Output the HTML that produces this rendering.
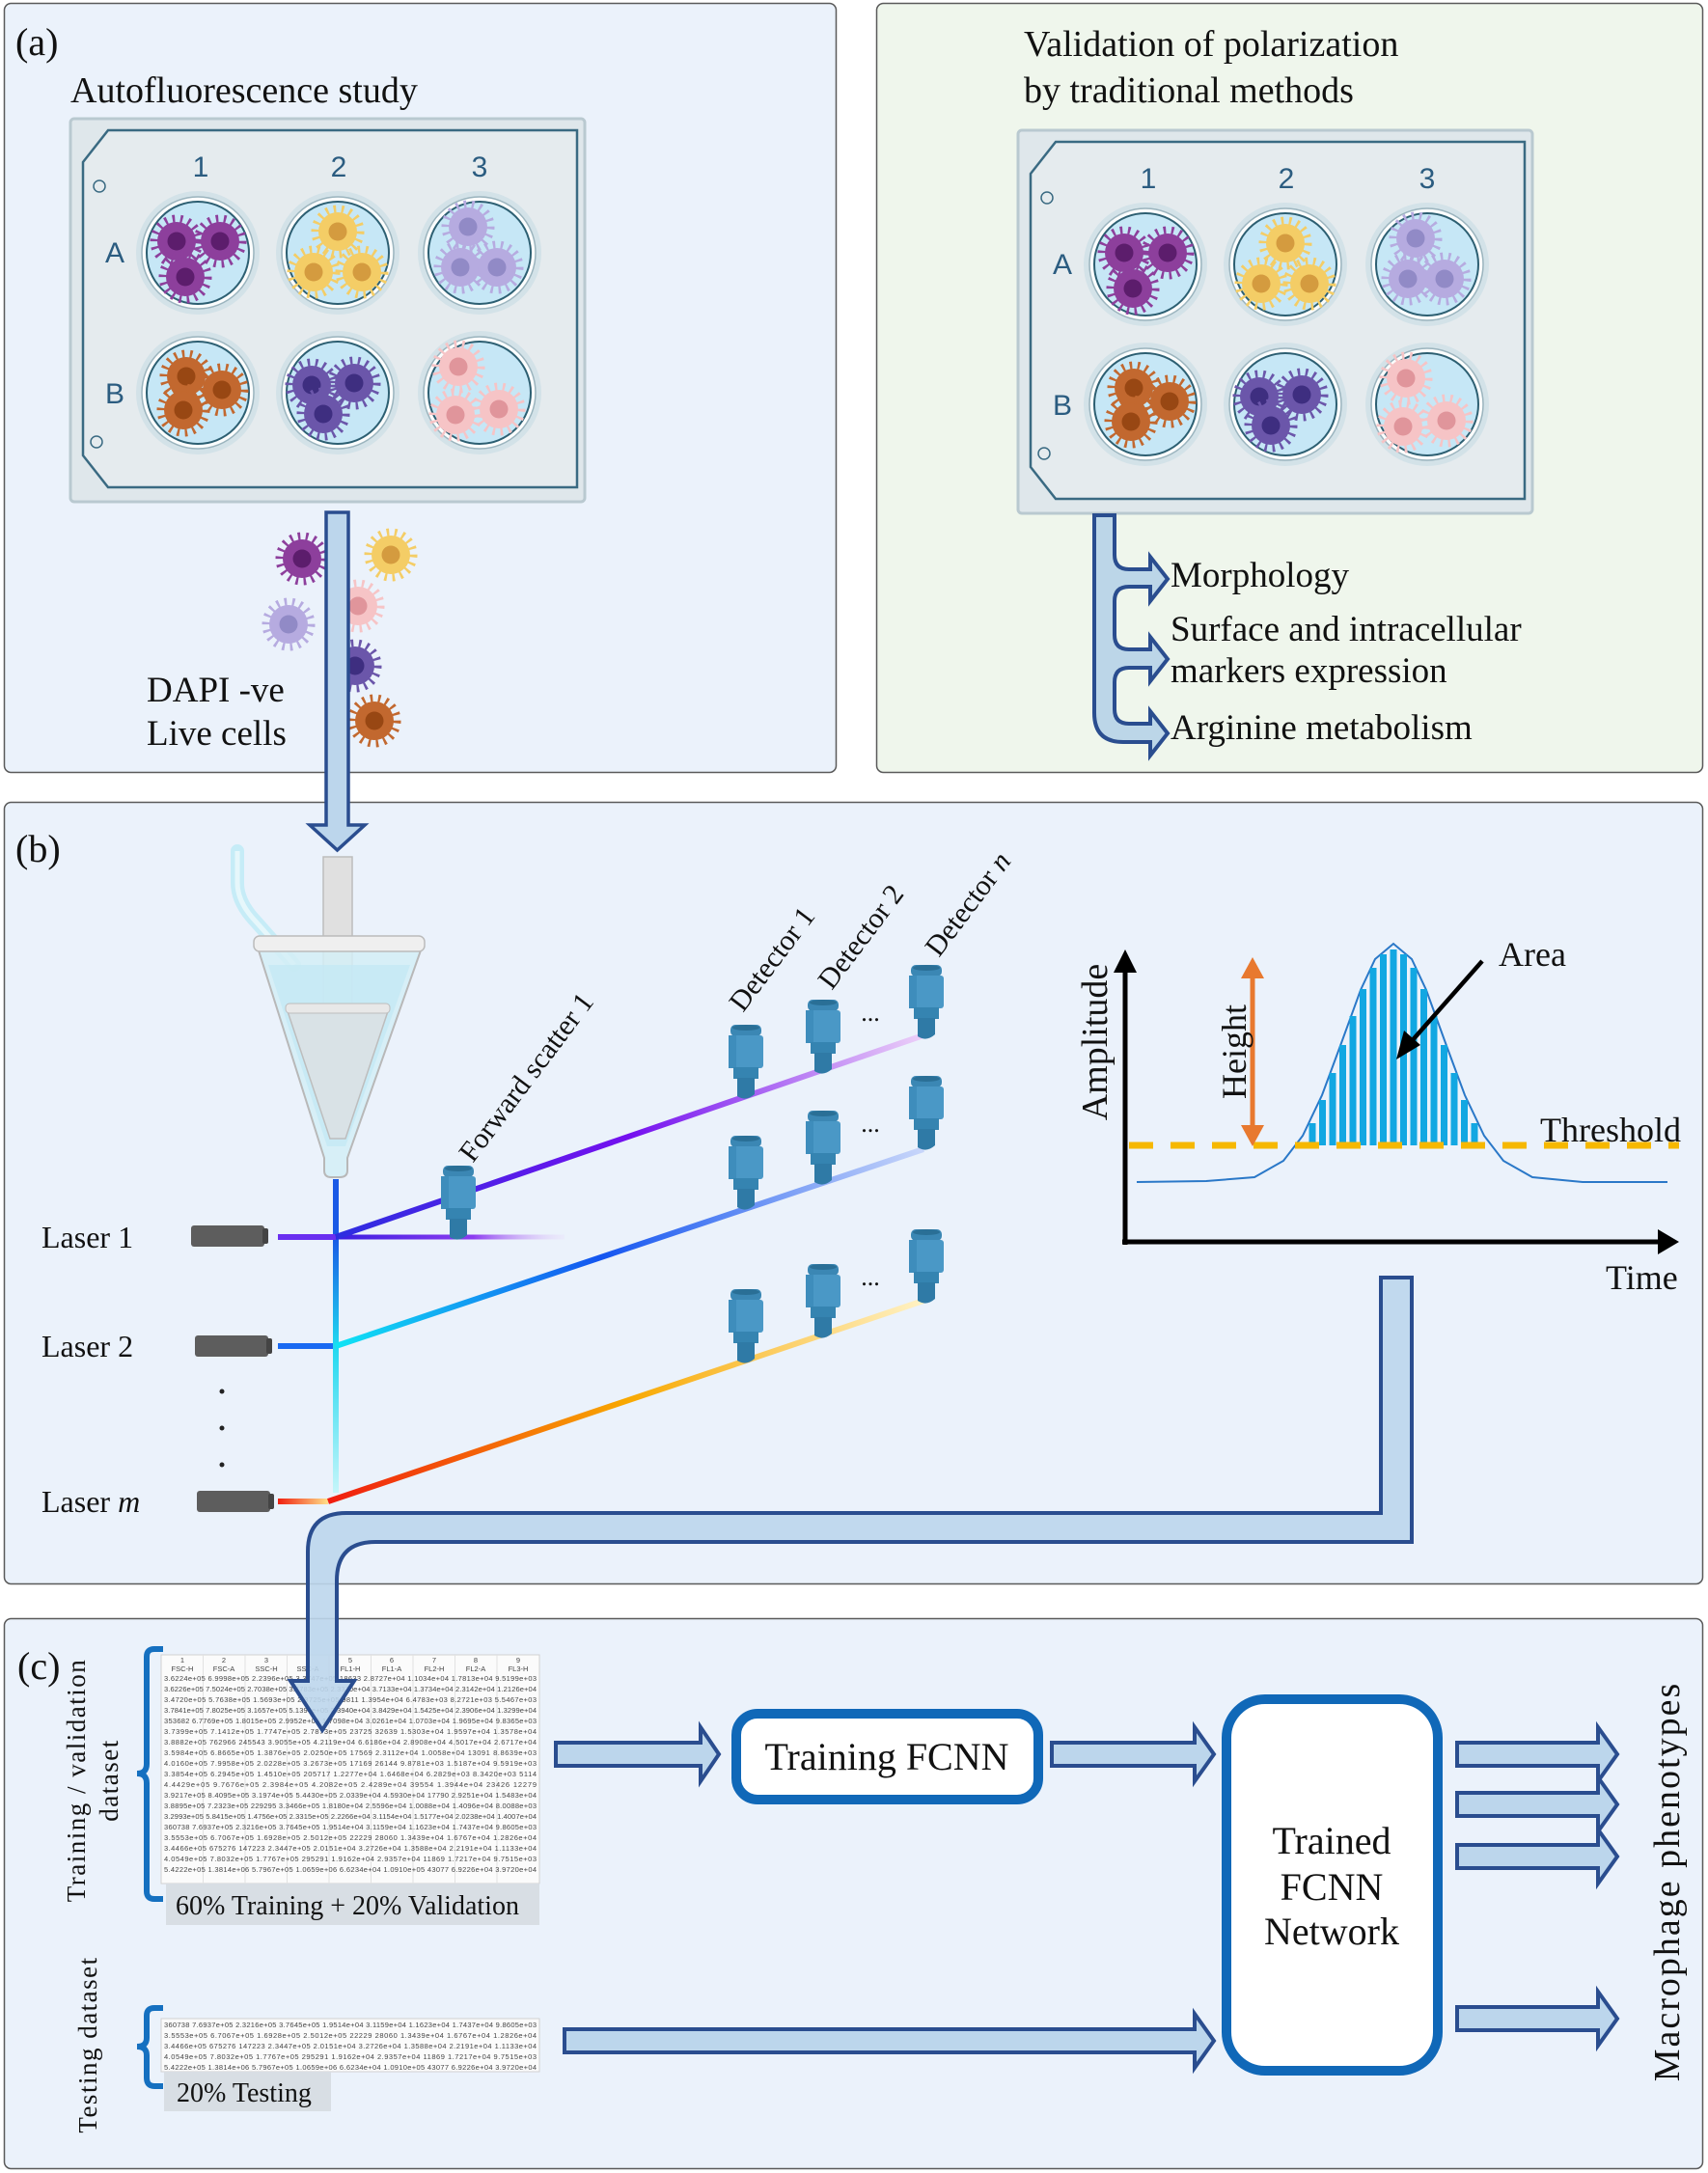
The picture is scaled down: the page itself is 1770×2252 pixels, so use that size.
<!DOCTYPE html>
<html><head><meta charset="utf-8"><style>
html,body{margin:0;padding:0;background:#fff}
svg{display:block}
text{font-family:"Liberation Serif",serif;fill:#111}
.tb{font-family:"Liberation Sans",sans-serif;font-size:7.5px;fill:#444}
</style></head><body>
<svg width="1770" height="2252" viewBox="0 0 1770 2252" xmlns="http://www.w3.org/2000/svg">
<defs>
<symbol id="cP" viewBox="-32 -32 64 64" overflow="visible"><circle r="20" fill="#8d3f9c"/><circle r="23" fill="none" stroke="#8d3f9c" stroke-width="9" stroke-dasharray="2.5 5.5"/><circle r="9.5" fill="#5c1d6c"/></symbol>
<symbol id="cY" viewBox="-32 -32 64 64" overflow="visible"><circle r="20" fill="#f4cd66"/><circle r="23" fill="none" stroke="#f4cd66" stroke-width="9" stroke-dasharray="2.5 5.5"/><circle r="9.5" fill="#d49b3f"/></symbol>
<symbol id="cL" viewBox="-32 -32 64 64" overflow="visible"><circle r="20" fill="#b6abe0"/><circle r="23" fill="none" stroke="#b6abe0" stroke-width="9" stroke-dasharray="2.5 5.5"/><circle r="9.5" fill="#918ac6"/></symbol>
<symbol id="cB" viewBox="-32 -32 64 64" overflow="visible"><circle r="20" fill="#c2682f"/><circle r="23" fill="none" stroke="#c2682f" stroke-width="9" stroke-dasharray="2.5 5.5"/><circle r="9.5" fill="#984713"/></symbol>
<symbol id="cI" viewBox="-32 -32 64 64" overflow="visible"><circle r="20" fill="#6b56aa"/><circle r="23" fill="none" stroke="#6b56aa" stroke-width="9" stroke-dasharray="2.5 5.5"/><circle r="9.5" fill="#3e2e80"/></symbol>
<symbol id="cK" viewBox="-32 -32 64 64" overflow="visible"><circle r="20" fill="#f6c4c6"/><circle r="23" fill="none" stroke="#f6c4c6" stroke-width="9" stroke-dasharray="2.5 5.5"/><circle r="9.5" fill="#e0959b"/></symbol>
<g id="well"><circle r="64" fill="#d3e2e8"/><circle r="58" fill="#fbfdfd" stroke="#9bb4be" stroke-width="1.5"/><circle r="53" fill="#c6e7f6" stroke="#2d5f72" stroke-width="2"/></g>
<g id="plate">
<rect x="73" y="123" width="533" height="397" rx="4" fill="#dfe7eb" stroke="#b9c9d0" stroke-width="3"/>
<path d="M112,135 H598 V505 H112 L86,472 V168 Z" fill="#e5ebee" stroke="#3a6a82" stroke-width="2.5"/>
<circle cx="103" cy="193" r="6" fill="none" stroke="#3a6a82" stroke-width="1.5"/>
<circle cx="100" cy="458" r="6" fill="none" stroke="#3a6a82" stroke-width="1.5"/>
<g font-family="Liberation Sans, sans-serif" font-size="30" fill="#2b5c80" text-anchor="middle">
<text x="208" y="183" style="font-family:'Liberation Sans',sans-serif;fill:#2b5c80">1</text>
<text x="351" y="183" style="font-family:'Liberation Sans',sans-serif;fill:#2b5c80">2</text>
<text x="497" y="183" style="font-family:'Liberation Sans',sans-serif;fill:#2b5c80">3</text>
<text x="119" y="272" style="font-family:'Liberation Sans',sans-serif;fill:#2b5c80">A</text>
<text x="119" y="418" style="font-family:'Liberation Sans',sans-serif;fill:#2b5c80">B</text>
</g>
<use href="#well" x="205" y="262"/><use href="#well" x="350" y="262"/><use href="#well" x="497" y="262"/>
<use href="#well" x="205" y="407"/><use href="#well" x="350" y="407"/><use href="#well" x="497" y="407"/>
<g transform="translate(205,262)"><use href="#cP" x="-54" y="-44" width="64" height="64"/><use href="#cP" x="-9" y="-44" width="64" height="64"/><use href="#cP" x="-45" y="-7" width="64" height="64"/></g>
<g transform="translate(350,262)"><use href="#cY" x="-32" y="-54" width="64" height="64"/><use href="#cY" x="-57" y="-12" width="64" height="64"/><use href="#cY" x="-7" y="-12" width="64" height="64"/></g>
<g transform="translate(497,262)"><use href="#cL" x="-44" y="-59" width="64" height="64"/><use href="#cL" x="-52" y="-17" width="64" height="64"/><use href="#cL" x="-14" y="-17" width="64" height="64"/></g>
<g transform="translate(205,407)"><use href="#cB" x="-44" y="-49" width="64" height="64"/><use href="#cB" x="-7" y="-35" width="64" height="64"/><use href="#cB" x="-47" y="-14" width="64" height="64"/></g>
<g transform="translate(350,407)"><use href="#cI" x="-59" y="-40" width="64" height="64"/><use href="#cI" x="-15" y="-42" width="64" height="64"/><use href="#cI" x="-47" y="-10" width="64" height="64"/></g>
<g transform="translate(497,407)"><use href="#cK" x="-54" y="-59" width="64" height="64"/><use href="#cK" x="-57" y="-9" width="64" height="64"/><use href="#cK" x="-12" y="-15" width="64" height="64"/></g>
</g>
<symbol id="det" viewBox="-20 0 40 78" overflow="visible">
<rect x="-16" y="0" width="32" height="12" rx="5" fill="#3b87b4"/>
<ellipse cx="0" cy="3" rx="14" ry="3" fill="#2a6f96"/>
<rect x="-18" y="11" width="36" height="34" rx="3" fill="#4a98c6"/>
<rect x="-18" y="11" width="8" height="34" fill="#3e8dbc"/>
<rect x="-13" y="44" width="26" height="12" fill="#3584b1"/>
<path d="M-9,55 H9 V72 Q0,80 -9,74 Z" fill="#2f7aa6"/>
</symbol>
<linearGradient id="g1" gradientUnits="userSpaceOnUse" x1="348" y1="1282" x2="957" y2="1073"><stop offset="0" stop-color="#2d2ee0"/><stop offset="0.5" stop-color="#7410ef"/><stop offset="1" stop-color="#ecd0f8"/></linearGradient>
<linearGradient id="g2" gradientUnits="userSpaceOnUse" x1="348" y1="1395" x2="957" y2="1191"><stop offset="0" stop-color="#10e4f4"/><stop offset="0.45" stop-color="#1455f0"/><stop offset="1" stop-color="#c8d6fa"/></linearGradient>
<linearGradient id="g3" gradientUnits="userSpaceOnUse" x1="340" y1="1556" x2="957" y2="1348"><stop offset="0" stop-color="#f01c10"/><stop offset="0.5" stop-color="#f8a800"/><stop offset="1" stop-color="#fff2c4"/></linearGradient>
<linearGradient id="gf" gradientUnits="userSpaceOnUse" x1="348" y1="0" x2="585" y2="0"><stop offset="0" stop-color="#3a1ee0"/><stop offset="0.6" stop-color="#8c3cf0"/><stop offset="1" stop-color="#e8d4fa" stop-opacity="0.2"/></linearGradient>
<linearGradient id="gm" gradientUnits="userSpaceOnUse" x1="288" y1="0" x2="340" y2="0"><stop offset="0" stop-color="#f02010"/><stop offset="1" stop-color="#ffe08a"/></linearGradient>
<linearGradient id="gs" gradientUnits="userSpaceOnUse" x1="0" y1="1282" x2="0" y2="1550"><stop offset="0" stop-color="#1a5ae6"/><stop offset="0.42" stop-color="#20d8f0"/><stop offset="1" stop-color="#c8f6fa"/></linearGradient>
</defs>

<!-- Panels -->
<rect x="4.5" y="3.5" width="862" height="797" rx="7" fill="#ebf2fb" stroke="#5a5a5a" stroke-width="1.5"/>
<rect x="908.5" y="3.5" width="856" height="797" rx="7" fill="#eff6ec" stroke="#5a5a5a" stroke-width="1.5"/>
<rect x="4.5" y="831.5" width="1760" height="810" rx="7" fill="#ebf2fb" stroke="#5a5a5a" stroke-width="1.5"/>
<rect x="4.5" y="1677.5" width="1760" height="570" rx="7" fill="#ebf2fb" stroke="#5a5a5a" stroke-width="1.5"/>

<text x="16" y="57" font-size="40">(a)</text>
<text x="73" y="106" font-size="38">Autofluorescence study</text>
<use href="#plate"/>
<g transform="translate(982,12)"><use href="#plate"/></g>
<text x="1061" y="58" font-size="38">Validation of polarization</text>
<text x="1061" y="106" font-size="38">by traditional methods</text>

<!-- bracket -->
<path d="M1134,534 H1155 V575 Q1155,590 1170,590 H1192 V577 L1210,600 L1192,623 V608 H1170 Q1155,608 1155,623 V658 Q1155,673 1170,673 H1192 V660 L1210,683 L1192,706 V692 H1170 Q1155,692 1155,707 V735 Q1155,750 1170,750 H1192 V737 L1210,760 L1192,783 V769 H1164 Q1134,769 1134,739 Z" fill="#bcd6e8" stroke="#2a4d8f" stroke-width="4"/>
<text x="1213" y="608" font-size="37">Morphology</text>
<text x="1213" y="664" font-size="37">Surface and intracellular</text>
<text x="1213" y="707" font-size="37">markers expression</text>
<text x="1213" y="766" font-size="37">Arginine metabolism</text>

<!-- loose cells -->
<use href="#cP" x="281" y="547" width="64" height="64"/>
<use href="#cY" x="373" y="543" width="64" height="64"/>
<use href="#cL" x="267" y="615" width="64" height="64"/>
<use href="#cK" x="339" y="596" width="64" height="64"/>
<use href="#cI" x="336" y="658" width="64" height="64"/>
<use href="#cB" x="356" y="715" width="64" height="64"/>
<text x="152" y="727" font-size="37">DAPI -ve</text>
<text x="152" y="772" font-size="37">Live cells</text>

<!-- Panel b -->
<text x="16" y="893" font-size="40">(b)</text>
<!-- flow cell -->
<path d="M246,882 V915 Q246,935 265,955 L305,1000" fill="none" stroke="#c6ecf7" stroke-width="14" stroke-linecap="round"/>
<path d="M246,882 V915 Q246,935 265,955 L305,1000" fill="none" stroke="#e6f7fb" stroke-width="5"/>
<rect x="335" y="888" width="30" height="160" fill="#e0e0e0" stroke="#bdbdbd" stroke-width="1.5"/>
<path d="M268,985 H436 L360,1200 V1213 Q360,1220 352,1220 H343 Q336,1220 336,1213 V1200 Z" fill="#d4eef6" fill-opacity="0.85" stroke="#b8b8b8" stroke-width="2"/>
<path d="M278,1000 H425 L358,1188 H339 Z" fill="#c4e8f4" fill-opacity="0.8"/>
<path d="M297,1045 H403 L358,1180 H342 Z" fill="#d9e2e6" stroke="#bdbdbd" stroke-width="1.5"/>
<rect x="296" y="1040" width="108" height="10" rx="4" fill="#e8e8e8" stroke="#bdbdbd"/>
<rect x="263" y="970" width="177" height="16" rx="6" fill="#efefef" stroke="#bbb" stroke-width="1.5"/>
<rect x="345" y="1222" width="6" height="325" fill="url(#gs)"/>
<!-- lasers -->
<rect x="198" y="1270" width="76" height="22" rx="3" fill="#5d5d5d"/><rect x="272" y="1273" width="6" height="16" rx="2" fill="#444"/>
<rect x="202" y="1384" width="76" height="22" rx="3" fill="#5d5d5d"/><rect x="276" y="1387" width="6" height="16" rx="2" fill="#444"/>
<rect x="204" y="1545" width="76" height="22" rx="3" fill="#5d5d5d"/><rect x="278" y="1548" width="6" height="16" rx="2" fill="#444"/>
<text x="43" y="1293" font-size="32">Laser 1</text>
<text x="43" y="1406" font-size="32">Laser 2</text>
<text x="43" y="1567" font-size="32">Laser <tspan font-style="italic">m</tspan></text>
<circle cx="230" cy="1442" r="2.5" fill="#222"/><circle cx="230" cy="1480" r="2.5" fill="#222"/><circle cx="230" cy="1518" r="2.5" fill="#222"/>
<line x1="288" y1="1282" x2="348" y2="1282" stroke="#6a2ff0" stroke-width="6"/>
<line x1="288" y1="1395" x2="345" y2="1395" stroke="#1a6af2" stroke-width="6"/>
<line x1="288" y1="1556" x2="340" y2="1556" stroke="url(#gm)" stroke-width="6"/>
<line x1="348" y1="1282" x2="585" y2="1282" stroke="url(#gf)" stroke-width="5"/>
<line x1="348" y1="1282" x2="957" y2="1073" stroke="url(#g1)" stroke-width="6"/>
<line x1="348" y1="1395" x2="957" y2="1191" stroke="url(#g2)" stroke-width="6"/>
<line x1="340" y1="1556" x2="957" y2="1348" stroke="url(#g3)" stroke-width="6"/>
<!-- detectors -->
<use href="#det" x="455" y="1208" width="40" height="78"/>
<use href="#det" x="753" y="1062" width="40" height="78"/>
<use href="#det" x="833" y="1036" width="40" height="78"/>
<use href="#det" x="940" y="1000" width="40" height="78"/>
<use href="#det" x="753" y="1177" width="40" height="78"/>
<use href="#det" x="833" y="1151" width="40" height="78"/>
<use href="#det" x="940" y="1115" width="40" height="78"/>
<use href="#det" x="753" y="1336" width="40" height="78"/>
<use href="#det" x="833" y="1310" width="40" height="78"/>
<use href="#det" x="940" y="1274" width="40" height="78"/>
<text x="902" y="1058" font-size="26" text-anchor="middle">...</text>
<text x="902" y="1173" font-size="26" text-anchor="middle">...</text>
<text x="902" y="1332" font-size="26" text-anchor="middle">...</text>
<text transform="translate(490,1206) rotate(-53)" font-size="30">Forward scatter 1</text>
<text transform="translate(770,1050) rotate(-53)" font-size="30">Detector 1</text>
<text transform="translate(862,1027) rotate(-53)" font-size="30">Detector 2</text>
<text transform="translate(973,993) rotate(-53)" font-size="30">Detector <tspan font-style="italic">n</tspan></text>

<!-- graph -->
<polyline points="1178,1225 1250,1224 1300,1220 1330,1203 1350,1177 1370,1135 1390,1081 1410,1026 1425,994 1444,978 1463,994 1478,1026 1498,1081 1518,1135 1538,1177 1558,1203 1588,1220 1640,1225 1728,1225" fill="none" stroke="#2a78c8" stroke-width="2"/>
<g fill="#12a7e2">
<rect x="1356.5" y="1164" width="7" height="23"/><rect x="1367" y="1140" width="7" height="47"/><rect x="1377.5" y="1112" width="7" height="75"/><rect x="1388" y="1083" width="7" height="104"/><rect x="1398.5" y="1053" width="7" height="134"/><rect x="1409" y="1025" width="7" height="162"/><rect x="1419.5" y="1003" width="7" height="184"/><rect x="1430" y="989" width="7" height="198"/><rect x="1440.5" y="984" width="7" height="203"/><rect x="1451" y="989" width="7" height="198"/><rect x="1461.5" y="1003" width="7" height="184"/><rect x="1472" y="1025" width="7" height="162"/><rect x="1482.5" y="1053" width="7" height="134"/><rect x="1493" y="1083" width="7" height="104"/><rect x="1503.5" y="1112" width="7" height="75"/><rect x="1514" y="1140" width="7" height="47"/><rect x="1524.5" y="1164" width="7" height="23"/>
</g>
<line x1="1170" y1="1187" x2="1740" y2="1187" stroke="#f6b800" stroke-width="7" stroke-dasharray="25 18"/>
<line x1="1166" y1="1003" x2="1166" y2="1290" stroke="#000" stroke-width="5"/>
<path d="M1154,1008 L1166,984 L1178,1008 Z" fill="#000"/>
<line x1="1163" y1="1287" x2="1722" y2="1287" stroke="#000" stroke-width="5"/>
<path d="M1718,1274 L1740,1287 L1718,1300 Z" fill="#000"/>
<line x1="1298" y1="1010" x2="1298" y2="1170" stroke="#e8792f" stroke-width="5"/>
<path d="M1286,1014 L1298,992 L1310,1014 Z M1286,1166 L1298,1188 L1310,1166 Z" fill="#e8792f"/>
<line x1="1536" y1="996" x2="1462" y2="1080" stroke="#000" stroke-width="4.5"/>
<path d="M1447,1098 L1455,1068 L1472,1083 Z" fill="#000"/>
<text x="1553" y="1001" font-size="36">Area</text>
<text x="1596" y="1183" font-size="36">Threshold</text>
<text x="1664" y="1336" font-size="36">Time</text>
<text transform="translate(1147,1080) rotate(-90)" font-size="38" text-anchor="middle">Amplitude</text>
<text transform="translate(1291,1090) rotate(-90)" font-size="36" text-anchor="middle">Height</text>

<!-- Panel c -->
<text x="18" y="1740" font-size="40">(c)</text>
<!-- tables -->
<rect x="167" y="1715" width="392" height="237" fill="#fbfbfb" stroke="#d0d0d0"/>
<g stroke="#e2e2e2" stroke-width="1">
<line x1="210.5" y1="1715" x2="210.5" y2="1952"/><line x1="254" y1="1715" x2="254" y2="1952"/><line x1="297.5" y1="1715" x2="297.5" y2="1952"/><line x1="341" y1="1715" x2="341" y2="1952"/><line x1="384.5" y1="1715" x2="384.5" y2="1952"/><line x1="428" y1="1715" x2="428" y2="1952"/><line x1="471.5" y1="1715" x2="471.5" y2="1952"/><line x1="515" y1="1715" x2="515" y2="1952"/>
</g>
<g class="tb" text-anchor="middle">
<text class="tb" x="189" y="1723">1</text><text class="tb" x="232" y="1723">2</text><text class="tb" x="276" y="1723">3</text><text class="tb" x="319" y="1723">4</text><text class="tb" x="363" y="1723">5</text><text class="tb" x="406" y="1723">6</text><text class="tb" x="450" y="1723">7</text><text class="tb" x="493" y="1723">8</text><text class="tb" x="537" y="1723">9</text>
<text class="tb" x="189" y="1732">FSC-H</text><text class="tb" x="232" y="1732">FSC-A</text><text class="tb" x="276" y="1732">SSC-H</text><text class="tb" x="319" y="1732">SSC-A</text><text class="tb" x="363" y="1732">FL1-H</text><text class="tb" x="406" y="1732">FL1-A</text><text class="tb" x="450" y="1732">FL2-H</text><text class="tb" x="493" y="1732">FL2-A</text><text class="tb" x="537" y="1732">FL3-H</text>
</g>
<g class="tb">
<text class="tb" x="170" y="1742" textLength="386">3.6224e+05 6.9998e+05 2.2396e+05 3.3747e+05 18633 2.8727e+04 1.1034e+04 1.7813e+04 9.5199e+03</text>
<text class="tb" x="170" y="1753" textLength="386">3.6226e+05 7.5024e+05 2.7038e+05 3.4783e+05 2.3370e+04 3.7133e+04 1.3734e+04 2.3142e+04 1.2126e+04</text>
<text class="tb" x="170" y="1764" textLength="386">3.4720e+05 5.7638e+05 1.5693e+05 2.3725e+05 9811 1.3954e+04 6.4783e+03 8.2721e+03 5.5467e+03</text>
<text class="tb" x="170" y="1775" textLength="386">3.7841e+05 7.8025e+05 3.1657e+05 5.1394e+05 2.3940e+04 3.8429e+04 1.5425e+04 2.3906e+04 1.3299e+04</text>
<text class="tb" x="170" y="1786" textLength="386">353682 6.7769e+05 1.8015e+05 2.9952e+05 1.7098e+04 3.0261e+04 1.0703e+04 1.9695e+04 9.8365e+03</text>
<text class="tb" x="170" y="1797" textLength="386">3.7399e+05 7.1412e+05 1.7747e+05 2.7873e+05 23725 32639 1.5303e+04 1.9597e+04 1.3578e+04</text>
<text class="tb" x="170" y="1808" textLength="386">3.8882e+05 762966 245543 3.9055e+05 4.2119e+04 6.6186e+04 2.8908e+04 4.5017e+04 2.6717e+04</text>
<text class="tb" x="170" y="1819" textLength="386">3.5984e+05 6.8665e+05 1.3876e+05 2.0250e+05 17569 2.3112e+04 1.0058e+04 13091 8.8639e+03</text>
<text class="tb" x="170" y="1830" textLength="386">4.0160e+05 7.9958e+05 2.0228e+05 3.2673e+05 17169 26144 9.8781e+03 1.5187e+04 9.5919e+03</text>
<text class="tb" x="170" y="1841" textLength="386">3.3854e+05 6.2945e+05 1.4510e+05 205717 1.2277e+04 1.6468e+04 6.2829e+03 8.3420e+03 5114</text>
<text class="tb" x="170" y="1852" textLength="386">4.4429e+05 9.7676e+05 2.3984e+05 4.2082e+05 2.4289e+04 39554 1.3944e+04 23426 12279</text>
<text class="tb" x="170" y="1863" textLength="386">3.9217e+05 8.4095e+05 3.1974e+05 5.4430e+05 2.0339e+04 4.5930e+04 17790 2.9251e+04 1.5483e+04</text>
<text class="tb" x="170" y="1874" textLength="386">3.8895e+05 7.2323e+05 229295 3.3466e+05 1.8180e+04 2.5596e+04 1.0088e+04 1.4096e+04 8.0088e+03</text>
<text class="tb" x="170" y="1885" textLength="386">3.2993e+05 5.8415e+05 1.4756e+05 2.3315e+05 2.2266e+04 3.1154e+04 1.5177e+04 2.0238e+04 1.4007e+04</text>
<text class="tb" x="170" y="1896" textLength="386">360738 7.6937e+05 2.3216e+05 3.7645e+05 1.9514e+04 3.1159e+04 1.1623e+04 1.7437e+04 9.8605e+03</text>
<text class="tb" x="170" y="1907" textLength="386">3.5553e+05 6.7067e+05 1.6928e+05 2.5012e+05 22229 28060 1.3439e+04 1.6767e+04 1.2826e+04</text>
<text class="tb" x="170" y="1918" textLength="386">3.4466e+05 675276 147223 2.3447e+05 2.0151e+04 3.2726e+04 1.3588e+04 2.2191e+04 1.1133e+04</text>
<text class="tb" x="170" y="1929" textLength="386">4.0549e+05 7.8032e+05 1.7767e+05 295291 1.9162e+04 2.9357e+04 11869 1.7217e+04 9.7515e+03</text>
<text class="tb" x="170" y="1940" textLength="386">5.4222e+05 1.3814e+06 5.7967e+05 1.0659e+06 6.6234e+04 1.0910e+05 43077 6.9226e+04 3.9720e+04</text>
</g>
<rect x="172" y="1952" width="387" height="43" fill="#d8dee4"/>
<text x="182" y="1984" font-size="28">60% Training + 20% Validation</text>

<rect x="167" y="2092" width="392" height="55" fill="#fbfbfb" stroke="#d0d0d0"/>
<g class="tb">
<text class="tb" x="170" y="2101" textLength="386">360738 7.6937e+05 2.3216e+05 3.7645e+05 1.9514e+04 3.1159e+04 1.1623e+04 1.7437e+04 9.8605e+03</text>
<text class="tb" x="170" y="2112" textLength="386">3.5553e+05 6.7067e+05 1.6928e+05 2.5012e+05 22229 28060 1.3439e+04 1.6767e+04 1.2826e+04</text>
<text class="tb" x="170" y="2123" textLength="386">3.4466e+05 675276 147223 2.3447e+05 2.0151e+04 3.2726e+04 1.3588e+04 2.2191e+04 1.1133e+04</text>
<text class="tb" x="170" y="2134" textLength="386">4.0549e+05 7.8032e+05 1.7767e+05 295291 1.9162e+04 2.9357e+04 11869 1.7217e+04 9.7515e+03</text>
<text class="tb" x="170" y="2145" textLength="386">5.4222e+05 1.3814e+06 5.7967e+05 1.0659e+06 6.6234e+04 1.0910e+05 43077 6.9226e+04 3.9720e+04</text>
</g>
<rect x="170" y="2147" width="173" height="41" fill="#d8dee4"/>
<text x="183" y="2178" font-size="28">20% Testing</text>

<!-- curly brackets -->
<path d="M169,1709 H160 Q152,1709 152,1717 V1828 Q152,1838 142,1838 Q152,1838 152,1848 V1960 Q152,1968 160,1968 H169" fill="none" stroke="#1570c0" stroke-width="6"/>
<path d="M169,2081 H160 Q152,2081 152,2089 V2112 Q152,2121 142,2121 Q152,2121 152,2130 V2153 Q152,2162 160,2162 H169" fill="none" stroke="#1570c0" stroke-width="6"/>
<text transform="translate(88,1845) rotate(-90)" font-size="27" text-anchor="middle" letter-spacing="1.5">Training / validation</text>
<text transform="translate(122,1845) rotate(-90)" font-size="27" text-anchor="middle" letter-spacing="1.5">dataset</text>
<text transform="translate(100,2119) rotate(-90)" font-size="27" text-anchor="middle" letter-spacing="1.5">Testing dataset</text>

<!-- big connector arrows -->
<path d="M1431,1324 H1463 V1598 H389 Q349,1598 349,1638 V1742 H367 L334,1793 L301,1742 H319 V1608 Q319,1568 359,1568 H1431 Z" fill="#bcd6ec" fill-opacity="0.9" stroke="#2a4d8f" stroke-width="4"/>
<path d="M338,531 H361 V855 H378 L349.5,881 L321,855 H338 Z" fill="#bcd6ec" stroke="#2a4d8f" stroke-width="3.5"/>

<!-- process arrows -->
<g fill="#bcd6ec" stroke="#2a4d8f" stroke-width="4">
<path d="M576,1806 H726 V1790 L745,1818 L726,1846 V1830 H576 Z"/>
<path d="M1090,1806 H1238 V1790 L1258,1818 L1238,1846 V1830 H1090 Z"/>
<path d="M1510,1806 H1656 V1790 L1676,1818 L1656,1846 V1830 H1510 Z"/>
<path d="M1510,1858 H1656 V1842 L1676,1870 L1656,1898 V1882 H1510 Z"/>
<path d="M1510,1912 H1656 V1896 L1676,1924 L1656,1952 V1936 H1510 Z"/>
<path d="M1510,2080 H1656 V2064 L1676,2092 L1656,2120 V2104 H1510 Z"/>
<path d="M585,2103 H1238 V2087 L1258,2115 L1238,2143 V2127 H585 Z"/>
</g>
<rect x="763" y="1776" width="313" height="89" rx="22" fill="#fff" stroke="#1068b8" stroke-width="10"/>
<text x="919" y="1834" font-size="40" text-anchor="middle">Training FCNN</text>
<rect x="1271" y="1761" width="219" height="385" rx="40" fill="#fff" stroke="#1068b8" stroke-width="10"/>
<text x="1380" y="1921" font-size="40" text-anchor="middle">Trained</text>
<text x="1380" y="1969" font-size="40" text-anchor="middle">FCNN</text>
<text x="1380" y="2015" font-size="40" text-anchor="middle">Network</text>
<text transform="translate(1740,1950) rotate(-90)" font-size="38" text-anchor="middle" letter-spacing="2">Macrophage phenotypes</text>
</svg>
</body></html>
